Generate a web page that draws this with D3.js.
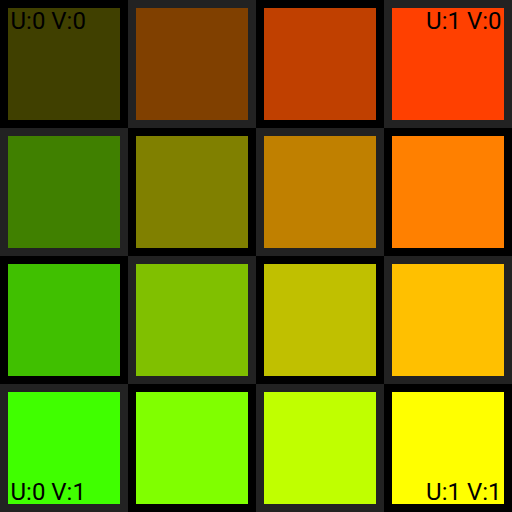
<!DOCTYPE html>
<html>
<head>
<meta charset="utf-8">
<script src="https://cdn.jsdelivr.net/npm/d3@7"></script>
<style>
html,body{margin:0;padding:0;background:#000;overflow:hidden;}
svg{display:block;}
</style>
</head>
<body>
<svg id="chart" width="512" height="512"></svg>
<script>
// Columns = U index, rows = V index
const uIndex = [0, 1, 2, 3];
const vIndex = [0, 1, 2, 3];
// Red channel per column (U), green channel per row (V)
const redByU = [64, 128, 192, 255];
const greenByV = [64, 128, 192, 255];
// Corner labels
const labels = [
  {u: 0, v: 0, text: "U:0 V:0"},
  {u: 3, v: 0, text: "U:1 V:0"},
  {u: 0, v: 3, text: "U:0 V:1"},
  {u: 3, v: 3, text: "U:1 V:1"}
];

const W = 512, H = 512, inset = 8;
const svg = d3.select("#chart");
const x = d3.scaleBand().domain(uIndex).range([0, W]);
const y = d3.scaleBand().domain(vIndex).range([0, H]);

const cells = [];
vIndex.forEach(v => uIndex.forEach(u => cells.push({u, v})));

svg.selectAll("rect.bg").data(cells).join("rect")
  .attr("class", "bg")
  .attr("x", d => x(d.u)).attr("y", d => y(d.v))
  .attr("width", x.bandwidth()).attr("height", y.bandwidth())
  .attr("fill", d => (d.u + d.v) % 2 === 0 ? "#000000" : "#222222");

svg.selectAll("rect.sw").data(cells).join("rect")
  .attr("class", "sw")
  .attr("x", d => x(d.u) + inset).attr("y", d => y(d.v) + inset)
  .attr("width", x.bandwidth() - 2 * inset).attr("height", y.bandwidth() - 2 * inset)
  .attr("fill", d => d3.rgb(redByU[d.u], greenByV[d.v], 0).formatHex());

svg.selectAll("text.lbl").data(labels).join("text")
  .attr("class", "lbl")
  .attr("x", d => d.u === 0 ? x(d.u) + inset + 2.5 : x(d.u) + x.bandwidth() - inset - 2.5)
  .attr("y", d => d.v === 0 ? y(d.v) + 29 : y(d.v) + y.bandwidth() - 12)
  .attr("text-anchor", d => d.u === 0 ? "start" : "end")
  .attr("font-family", "Roboto, sans-serif")
  .attr("font-size", 24)
  .attr("fill", "#000")
  .text(d => d.text);
</script>
</body>
</html>
